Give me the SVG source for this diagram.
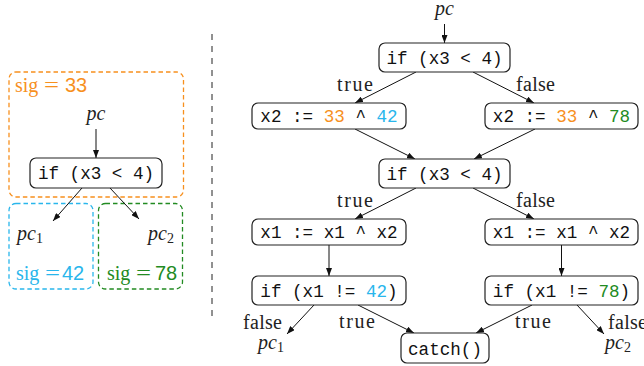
<svg xmlns="http://www.w3.org/2000/svg" width="644" height="366" viewBox="0 0 644 366">
<style>
.node{fill:#fff;stroke:#222;stroke-width:1.2}
.code{font-family:"Liberation Mono",monospace;font-size:17.6px;fill:#111;white-space:pre}
.lbl{font-family:"Liberation Serif",serif;font-size:20px;fill:#222}
.it{font-family:"Liberation Serif",serif;font-style:italic;font-size:20px;fill:#222}
.sub{font-style:normal;font-size:14px}
.sans{font-family:"Liberation Sans",sans-serif}
.edge{stroke:#111;stroke-width:1;fill:none;marker-end:url(#ah)}
.grp{fill:none;stroke-width:1.3;stroke-dasharray:4.5 3}
.o{fill:#F7901E}.b{fill:#29B6EC}.g{fill:#228B22}
</style>
<defs>
<marker id="ah" markerWidth="8" markerHeight="6" refX="8" refY="3" orient="auto" markerUnits="userSpaceOnUse">
<path d="M0,0 L8,3 L0,6 z" fill="#111"/>
</marker>
</defs>

<g id="groups">
<rect x="9" y="72" width="174.5" height="125" rx="7" class="grp" stroke="#F7901E"/>
<rect x="9" y="203.5" width="84" height="85.5" rx="7" class="grp" stroke="#29B6EC"/>
<rect x="98.5" y="203.5" width="84" height="85.5" rx="7" class="grp" stroke="#228B22"/>
<text x="15" y="92" class="lbl o">sig<tspan x="44" textLength="15" lengthAdjust="spacingAndGlyphs">=</tspan><tspan x="65" class="sans">33</tspan></text>
<text x="16" y="280" class="lbl b">sig<tspan x="45" textLength="15" lengthAdjust="spacingAndGlyphs">=</tspan><tspan x="62" class="sans">42</tspan></text>
<text x="107" y="280" class="lbl g">sig<tspan x="136" textLength="15" lengthAdjust="spacingAndGlyphs">=</tspan><tspan x="155" class="sans">78</tspan></text>
</g>

<line id="divider" x1="212" y1="34" x2="212" y2="322" stroke="#222" stroke-width="1" stroke-dasharray="6 6"/>

<g id="connectors">
<line x1="96" y1="129" x2="96" y2="158" class="edge"/>
<line x1="82" y1="188" x2="53" y2="221" class="edge"/>
<line x1="110" y1="188" x2="139" y2="219" class="edge"/>
<line x1="444.5" y1="24" x2="444.5" y2="43" class="edge"/>
<line x1="416" y1="72" x2="355" y2="103" class="edge"/>
<line x1="473" y1="72" x2="534" y2="103" class="edge"/>
<line x1="355" y1="129" x2="415" y2="159" class="edge"/>
<line x1="535" y1="129" x2="474" y2="159" class="edge"/>
<line x1="416" y1="188" x2="355" y2="219" class="edge"/>
<line x1="473" y1="188" x2="534" y2="219" class="edge"/>
<line x1="329" y1="245" x2="329" y2="276" class="edge"/>
<line x1="561.5" y1="245" x2="561.5" y2="276" class="edge"/>
<line x1="314" y1="305" x2="287" y2="334" class="edge"/>
<line x1="358" y1="305" x2="414" y2="333" class="edge"/>
<line x1="532" y1="305" x2="476" y2="333" class="edge"/>
<line x1="577" y1="305" x2="604" y2="334" class="edge"/>
</g>

<g id="labels">
<text x="96" y="120" class="it" text-anchor="middle">pc</text>
<text x="17" y="240" class="it">pc<tspan class="sub" dy="3">1</tspan></text>
<text x="148" y="240" class="it">pc<tspan class="sub" dy="3">2</tspan></text>
<text x="444.5" y="15" class="it" text-anchor="middle">pc</text>
<text x="337" y="91" class="lbl" textLength="36">true</text>
<text x="516" y="91" class="lbl" textLength="39">false</text>
<text x="337" y="207" class="lbl" textLength="36">true</text>
<text x="516" y="207" class="lbl" textLength="39">false</text>
<text x="243" y="329" class="lbl" textLength="39">false</text>
<text x="339" y="328" class="lbl" textLength="36">true</text>
<text x="515" y="328" class="lbl" textLength="36">true</text>
<text x="608" y="329" class="lbl" textLength="39">false</text>
<text x="258" y="349" class="it">pc<tspan class="sub" dy="3">1</tspan></text>
<text x="605" y="349" class="it">pc<tspan class="sub" dy="3">2</tspan></text>
</g>

<g id="nL">
<rect x="30" y="158" width="132" height="30" rx="6" class="node"/>
<text x="96" y="179.3" class="code" text-anchor="middle">if (x3 &lt; 4)</text>
</g>
<g id="n1">
<rect x="379" y="43" width="131" height="29" rx="6" class="node"/>
<text x="444.5" y="63.5" class="code" text-anchor="middle">if (x3 &lt; 4)</text>
</g>
<g id="n2l">
<rect x="252" y="103" width="154" height="26" rx="6" class="node"/>
<text x="329" y="121.7" class="code" text-anchor="middle">x2 := <tspan class="o">33</tspan> ^ <tspan class="b">42</tspan></text>
</g>
<g id="n2r">
<rect x="485" y="103" width="153" height="26" rx="6" class="node"/>
<text x="561.5" y="121.7" class="code" text-anchor="middle">x2 := <tspan class="o">33</tspan> ^ <tspan class="g">78</tspan></text>
</g>
<g id="n3">
<rect x="379" y="159" width="131" height="29" rx="6" class="node"/>
<text x="444.5" y="179.5" class="code" text-anchor="middle">if (x3 &lt; 4)</text>
</g>
<g id="n4l">
<rect x="252" y="219" width="154" height="26" rx="6" class="node"/>
<text x="329" y="238.3" class="code" text-anchor="middle">x1 := x1 ^ x2</text>
</g>
<g id="n4r">
<rect x="485" y="219" width="153" height="26" rx="6" class="node"/>
<text x="561.5" y="238.3" class="code" text-anchor="middle">x1 := x1 ^ x2</text>
</g>
<g id="n5l">
<rect x="252" y="276" width="154" height="29" rx="6" class="node"/>
<text x="329" y="296.7" class="code" text-anchor="middle">if (x1 != <tspan class="b">42</tspan>)</text>
</g>
<g id="n5r">
<rect x="485" y="276" width="153" height="29" rx="6" class="node"/>
<text x="561.5" y="296.7" class="code" text-anchor="middle">if (x1 != <tspan class="g">78</tspan>)</text>
</g>
<g id="catch">
<rect x="401" y="333" width="88" height="30" rx="6" class="node"/>
<text x="445" y="355" class="code" text-anchor="middle">catch()</text>
</g>
</svg>
